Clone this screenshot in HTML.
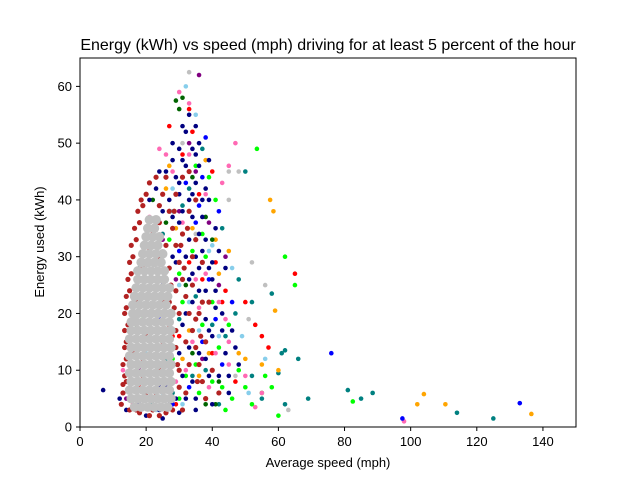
<!DOCTYPE html>
<html><head><meta charset="utf-8"><style>
body{margin:0;background:#fff}
svg text{font-family:"Liberation Sans",sans-serif}
</style></head><body>
<svg id="chart" width="640" height="480" xmlns="http://www.w3.org/2000/svg">
<rect width="640" height="480" fill="#fff"/>
<text x="328" y="50" font-size="16" text-anchor="middle">Energy (kWh) vs speed (mph) driving for at least 5 percent of the hour</text>
<g id="marks"></g>
<rect x="80" y="58" width="496" height="369" fill="none" stroke="#000" stroke-width="1"/>
<g id="xt"></g>
<g id="yt"></g>
<text x="328" y="467" font-size="13" text-anchor="middle">Average speed (mph)</text>
<text x="44" y="242" font-size="13" text-anchor="middle" transform="rotate(-90 44 242)">Energy used (kWh)</text>
</svg>
<script>
const xTicks=[0,20,40,60,80,100,120,140];
const yTicks=[0,10,20,30,40,50,60];
const seriesNames=["teal","lime","orange","red","hotpink","skyblue","darkgreen","purple","blue","silver-extra","navy","firebrick","silver-core"];
const seriesColors=["#008080","#00ff00","#ffa500","#ff0000","#ff69b4","#87ceeb","#006400","#800080","#0000ff","#c0c0c0","#000080","#b22222","#c0c0c0"];
const tealPts=[[22,4],[28,6],[34,9],[38,10],[44,16],[47,20],[52,22],[58,23.5],[62,13.5],[61,13],[69,5],[81,6.5],[88.5,6],[114,2.5],[125,1.5],[52,9],[55,5],[48,26],[50,45],[43,35],[37,49],[31,39],[26,12],[18,28],[66,12],[60,9.5],[62,4],[85,5],[30,19],[35,23],[40,18],[42,4],[25,34],[33,42]];
const limePts=[[16,4],[22,5],[30,5],[36,6],[40,8],[44,3],[48,10],[42,14],[45,18],[38,30],[37,34],[41,40],[39,44],[35,46],[53.5,49],[62,30],[65,25],[58,7],[56,9],[55,6],[52,4],[50,7],[60,2],[28,12],[31,22],[19,19],[82.5,4.5],[32,9],[35,11],[37,18],[40,22],[43,7],[46,5],[34,31],[30,27],[27,33]];
const orangePts=[[57.5,40],[58.5,38],[59,20.5],[102,4],[104,5.8],[110.5,4],[136.5,2.3],[45,31],[42,27],[38,47],[26,42],[29,35],[33,17],[39,13],[48,13],[50,12],[55,11],[60,10],[23,8],[31,12],[36,9],[41,33],[27,46],[34,35]];
const redPts=[[65,27],[50,22],[44,24],[41,29],[40,45],[34,52],[33,56],[36,41],[30,16],[26,20],[22,11],[18,7],[47,8],[53,18],[55,16],[57,14],[28,16],[33,29],[37,26],[40,13],[43,22],[31,48],[27,53],[29,4]];
const pinkPts=[[13,10],[16,4],[21,37],[24,49],[30,59],[33,57],[38,41],[43,43],[45,46],[47,50],[42,22],[44,19],[50,9],[53,3.5],[55,6],[98,1],[45,15],[35,26],[32,10],[19,26],[27,14],[29,8],[34,15],[38,27],[41,13],[45,11],[28,45],[26,48],[33,48],[31,36],[36,21],[39,7]];
const skyPts=[[23,3],[31,4],[32,60],[35,55],[40,32],[46,28],[49,16],[56,12],[51,6],[28,38],[24,29],[20,13],[33,22],[30,25],[36,17],[39,31],[42,16],[28,42],[25,6]];
const dgreenPts=[[22,40],[29,57.5],[31,58],[30,56],[26,36],[34,44],[40,33],[42,8],[38,4],[17,18],[34,13],[32,25],[38,37],[41,4],[27,20]];
const purplePts=[[36,62],[33,50],[39,36],[14,5],[18,10],[44,30],[42,25],[25,33],[35,45],[30,38],[37,12],[29,26]];
const bluePts=[[20,5],[28,4],[33,7],[37,15],[39,26],[36,39],[38,51],[37,44],[32,43],[41,19],[43,11],[46,22],[30,31],[35,36],[42,38],[97.5,1.5],[133,4.2],[76,13],[24,19],[16,30]];
const silverExtraPts=[[33,62.5],[45,45],[48,45],[45,40],[52,29],[51,19],[56,25],[63,3],[47,9],[35,34],[31,50]];
const navyPts=[[7,6.5],[12,5],[14,3],[20,2],[25,1.5],[30,2.5],[35,3],[40,4],[45,6],[42,9],[38,12],[40,16],[43,20],[41,24],[39,28],[37,31],[36,34],[34,37],[33,40],[35,43],[36,46],[34,49],[32,52],[35,53],[33,55],[31,47],[29,44],[27,40],[25,38],[23,42],[21,40],[30,36],[32,30],[34,27],[36,24],[38,19],[33,14],[31,9],[29,5],[26,7],[33,33],[35,30],[37,37],[38,42],[39,47],[36,50],[44,13],[46,17],[48,11],[44,28],[41,35],[39,40],[30,41],[28,47],[22,14],[25,25],[31,18],[37,8],[34,22],[28,30],
[16,5],[18,4],[24,3],[27,4],[32,5],[34,8],[36,13],[39,17],[41,21],[40,26],[38,33],[37,40],[35,48],[32,46],[30,43],[28,37],[31,38],[29,29],[33,26],[32,20],[30,13],[27,10],[24,7],[21,8],[26,17],[36,28],[38,24],[40,29],[42,31],[43,17],[45,9],[47,14],[39,9],[35,5],[26,45],[28,50],[31,53],[30,49],[34,41],[24,45]];
const firebrickPts=[[13,6],[13.5,9],[14,12],[14,15],[14.5,18],[14,21],[15,24],[15.5,27],[16,30],[17,33],[18,36],[19,39],[20,41],[21,43],[23,44],[25,41],[27,38],[28,35],[29,32],[30,29],[31,26],[32,23],[33,20],[34,17],[35,14],[36,11],[37,8],[38,5],[30,20],[29,14],[28,8],[26,5],[22,3],[18,2.5],[15,3],[24,10],[20,16],[22,26],[27,28],[31,34],[33,38],[26,32],[24,36],[30,10],[32,6],[34,25],[36,20],[38,15],[35,33],[23,17],[19,9],[17,22],[21,31],[25,22],[29,41],[33,45],[31,44],[35,40],[16,13],[14,8],[40,10],[42,6],[39,22],[37,29],[27,18],[20,6],[29,24],[28,3],[24,2],
[12.5,4],[13,7.5],[13,11],[13.5,14],[13.5,17],[13.5,20],[14,23],[14.5,26],[15,29],[15.5,32],[16.5,35],[17.5,38],[18.5,40],[24,39],[26,44],[28.5,38],[27.5,25],[28.5,21],[29,17],[29.5,11],[30,7],[31,3],[33,11],[32,15],[31.5,28],[30.5,32],[32.5,35],[34,30],[35,19],[36.5,16],[35.5,8],[37,22],[26,2.5],[21,2],[17,3],[23,6],[19,12],[25,15],[21,20],[27,22],[19,28],[24,30],[22,34]];
const greyPts=[[16.5,3.5],[18.5,3.5],[20.5,3.5],[22.5,3.5],[24.5,3.5],[26.5,3.5],
[15.5,5],[17.5,5],[19.5,5],[21.5,5],[23.5,5],[25.5,5],[27.5,5],
[15,6.5],[17,6.5],[19,6.5],[21,6.5],[23,6.5],[25,6.5],[27,6.5],
[15.5,8],[17.5,8],[19.5,8],[21.5,8],[23.5,8],[25.5,8],[27.5,8],
[15,9.5],[17,9.5],[19,9.5],[21,9.5],[23,9.5],[25,9.5],[27,9.5],
[15.5,11],[17.5,11],[19.5,11],[21.5,11],[23.5,11],[25.5,11],[27.5,11],
[15,12.5],[17,12.5],[19,12.5],[21,12.5],[23,12.5],[25,12.5],[27,12.5],
[15.5,14],[17.5,14],[19.5,14],[21.5,14],[23.5,14],[25.5,14],[27.5,14],
[15,15.5],[17,15.5],[19,15.5],[21,15.5],[23,15.5],[25,15.5],[27,15.5],
[15.5,17],[17.5,17],[19.5,17],[21.5,17],[23.5,17],[25.5,17],[27.5,17],
[15.5,18.5],[17,18.5],[19,18.5],[21,18.5],[23,18.5],[25,18.5],[27,18.5],
[16,20],[17.5,20],[19.5,20],[21.5,20],[23.5,20],[25.5,20],[27.5,20],
[16,21.5],[18,21.5],[20,21.5],[22,21.5],[24,21.5],[26,21.5],
[16.5,23],[18.5,23],[20.5,23],[22.5,23],[24.5,23],[26.5,23],
[17,24.5],[19,24.5],[21,24.5],[23,24.5],[25,24.5],[27,24.5],
[17.5,26],[19.5,26],[21.5,26],[23.5,26],[25.5,26],
[17.5,27.5],[19.5,27.5],[21.5,27.5],[23.5,27.5],[25.5,27.5],
[18.5,29],[20.5,29],[22.5,29],[24.5,29],
[19,30.5],[21,30.5],[23,30.5],[25,30.5],
[19.5,32],[21.5,32],[23.5,32],
[20,33.5],[22,33.5],[24,33.5],
[20.5,35],[22.5,35],[21,36.5],[23,36.5]];
const allSeries=[tealPts,limePts,orangePts,redPts,pinkPts,skyPts,dgreenPts,purplePts,bluePts,silverExtraPts,navyPts,firebrickPts,greyPts];
const NS="http://www.w3.org/2000/svg";
function xs(v){return 80+v/150*496;}
function ys(v){return 427-v/65*369;}
const marks=document.getElementById('marks');
allSeries.forEach((pts,si)=>{
  const g=document.createElementNS(NS,'g');
  
  
  const r=si===12?4.8:(si===11?2.6:2.3);
  pts.forEach(p=>{
    const c=document.createElementNS(NS,'circle');
    c.setAttribute('cx',xs(p[0]));c.setAttribute('cy',ys(p[1]));c.setAttribute('r',r);
    c.setAttribute('fill',seriesColors[si]);
    
    
    g.appendChild(c);
  });
  marks.appendChild(g);
});
const xt=document.getElementById('xt');
xTicks.forEach(t=>{
  const l=document.createElementNS(NS,'line');
  l.setAttribute('x1',xs(t));l.setAttribute('x2',xs(t));l.setAttribute('y1',427);l.setAttribute('y2',431);l.setAttribute('stroke','#000');
  
  
  xt.appendChild(l);
  const tx=document.createElementNS(NS,'text');
  tx.setAttribute('x',xs(t));tx.setAttribute('y',446);tx.setAttribute('font-size','13');tx.setAttribute('text-anchor','middle');
  tx.textContent=t;
  
  
  xt.appendChild(tx);
});
const yt=document.getElementById('yt');
yTicks.forEach(t=>{
  const l=document.createElementNS(NS,'line');
  l.setAttribute('x1',76);l.setAttribute('x2',80);l.setAttribute('y1',ys(t));l.setAttribute('y2',ys(t));l.setAttribute('stroke','#000');
  
  
  yt.appendChild(l);
  const tx=document.createElementNS(NS,'text');
  tx.setAttribute('x',72);tx.setAttribute('y',ys(t)+4.5);tx.setAttribute('font-size','13');tx.setAttribute('text-anchor','end');
  tx.textContent=t;
  
  
  yt.appendChild(tx);
});
</script>
</body></html>
